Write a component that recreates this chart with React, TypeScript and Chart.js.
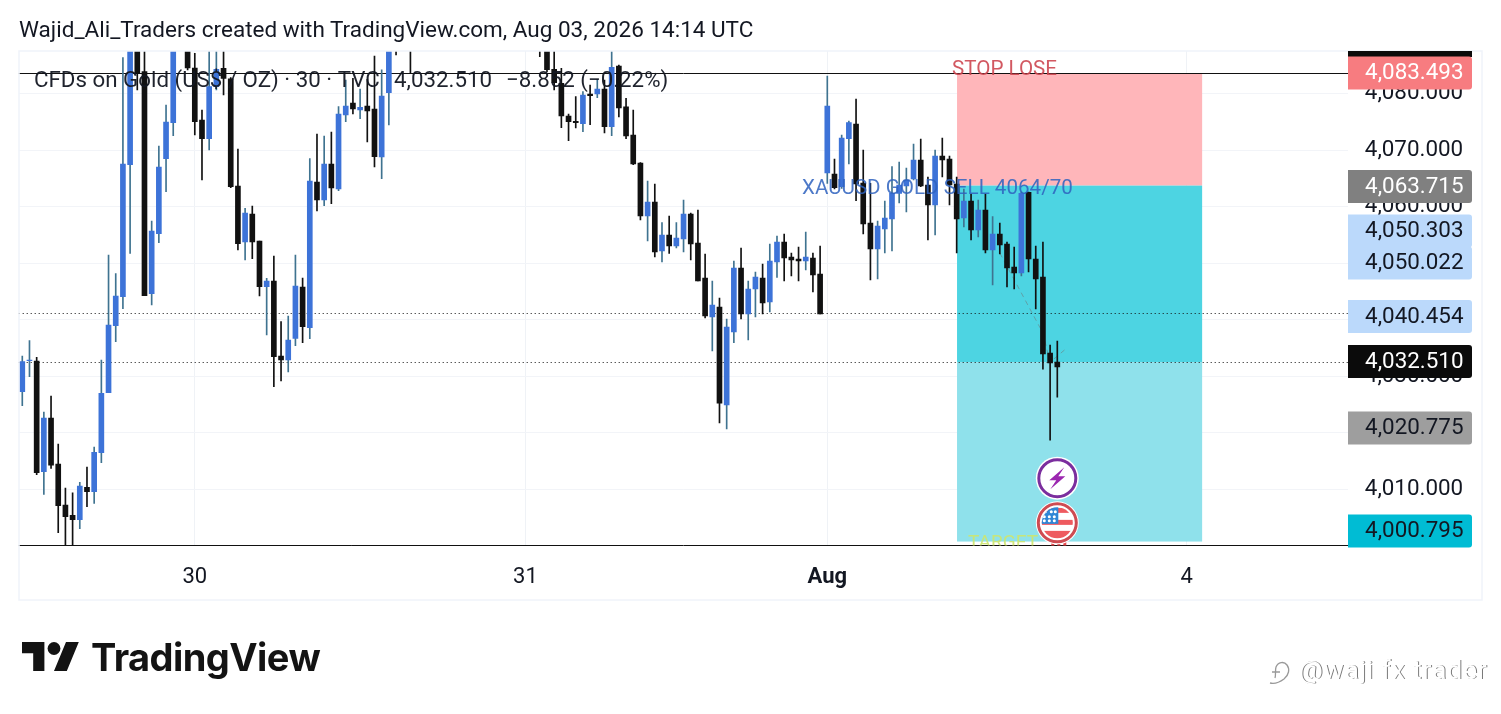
import React, { useEffect, useRef } from "react";
import { Chart, registerables } from "chart.js";

Chart.register(...registerables);

const opens = [
  4027.29, 4032.77, 4032.71, 4013.15, 4022.63, 4014.5, 4007.25, 4005.43, 4004.66, 4010.38,
  4009.61, 4016.5, 4027.11, 4038.96, 4044.08, 4067.42, 4092.0, 4083.86, 4044.61, 4055.22,
  4068.48, 4074.85, 4096, 4093, 4084.51, 4075.32, 4072.02, 4081.21, 4084.45, 4082.57,
  4063.65, 4053.75, 4058.7, 4053.93, 4045.85, 4046.85, 4033.59, 4032.89, 4036.72, 4045.79,
  4038.6, 4064.36, 4061.17, 4067.54, 4063.12, 4076.2, 4078.32, 4077.08, 4077.79, 4077.26,
  4068.78, 4080.15, 4093, 4092, 4096, 4091, 4096, 4099, 4097, 4102,
  4104, 4101, 4098, 4100, 4097, 4103, 4105, 4102, 4106, 4103,
  4101, 4099, 4098, 4092, 4084.27, 4081.8, 4076.02, 4075.08, 4074.67, 4079.91,
  4079.91, 4080.8, 4074.14, 4084.86, 4077.62, 4072.66, 4067.72, 4058.34, 4060.82, 4052.16,
  4054.99, 4053.04, 4054.28, 4058.7, 4053.57, 4047.38, 4040.49, 4042.26, 4024.93, 4037.84,
  4049.15, 4041.02, 4045.44, 4047.38, 4043.14, 4050.21, 4053.75, 4051.1, 4050.74, 4050.39,
  4050.92, 4048.09, 4065.95, 4065.77, 4063.53, 4072.01, 4074.61, 4064.18, 4057.11, 4052.51,
  4056.04, 4057.81, 4062.35, 4063.65, 4064.88, 4068.24, 4063.82, 4060.29, 4068.95, 4068.42,
  4064.0, 4057.99, 4060.99, 4055.87, 4059.4, 4052.33, 4055.16, 4053.39, 4049.33, 4048.27,
  4062.53, 4050.74, 4047.56, 4034.12, 4032.53,
];
const highs = [
  4033.59, 4036.31, 4033.36, 4023.69, 4026.52, 4018.04, 4010.26, 4009.43, 4011.26, 4013.97,
  4017.51, 4032.89, 4051.45, 4048.15, 4086.34, 4094.0, 4093, 4089.0, 4057.46, 4070.72,
  4077.97, 4094, 4097, 4094, 4087.1, 4077.08, 4088.5, 4089, 4088.5, 4082.8,
  4070.19, 4059.7, 4060.11, 4053.93, 4047.33, 4051.27, 4039.66, 4040.67, 4051.45, 4047.38,
  4068.48, 4072.84, 4072.49, 4073.2, 4077.67, 4082.39, 4082.68, 4080.8, 4082.51, 4086.63,
  4084.16, 4092.5, 4094, 4096, 4097, 4098, 4100, 4102, 4103, 4106,
  4105, 4103, 4102, 4101, 4104, 4107, 4106, 4108, 4107, 4105,
  4102, 4101, 4099, 4094, 4088.3, 4084.45, 4076.38, 4079.44, 4080.33, 4081.5,
  4082.51, 4082.39, 4087.52, 4085.04, 4079.15, 4077.08, 4067.78, 4064.53, 4064.0, 4057.17,
  4058.34, 4057.17, 4061.17, 4058.88, 4059.41, 4051.63, 4046.85, 4043.85, 4040.14, 4050.39,
  4052.69, 4046.85, 4048.44, 4049.86, 4053.39, 4054.81, 4055.16, 4051.8, 4052.86, 4055.52,
  4051.8, 4053.04, 4083.09, 4068.42, 4072.66, 4075.14, 4079.03, 4070.01, 4064.12, 4057.46,
  4060.99, 4067.06, 4067.89, 4066.83, 4071.07, 4071.96, 4065.24, 4070.01, 4072.13, 4068.95,
  4065.24, 4063.12, 4062.23, 4061.17, 4062.23, 4058.22, 4057.11, 4053.75, 4052.86, 4062.59,
  4062.59, 4053.04, 4053.75, 4035.54, 4036.24,
];
const lows = [
  4024.81, 4029.94, 4012.61, 4009.14, 4013.73, 4002.36, 3999.77, 3999.7, 4003.07, 4006.96,
  4007.55, 4014.74, 4027.11, 4036.13, 4041.96, 4051.74, 4080.62, 4044.26, 4042.61, 4053.63,
  4062.65, 4072.55, 4092, 4084.16, 4072.66, 4064.71, 4070.01, 4080.62, 4079.74, 4063.35,
  4052.33, 4050.57, 4050.8, 4044.2, 4037.31, 4028.17, 4029.17, 4030.77, 4035.42, 4035.95,
  4036.66, 4059.23, 4060.17, 4060.53, 4062.82, 4075.02, 4076.38, 4075.55, 4071.43, 4067.01,
  4064.95, 4074.43, 4086.81, 4089, 4083.68, 4090, 4094, 4095, 4096, 4100,
  4099, 4096, 4095, 4095, 4096, 4101, 4100, 4101, 4101, 4099,
  4097, 4096, 4086.51, 4083.86, 4080.62, 4073.96, 4071.66, 4073.9, 4073.25, 4074.49,
  4079.27, 4073.02, 4072.55, 4075.85, 4072.02, 4067.42, 4057.64, 4053.93, 4051.1, 4050.21,
  4051.74, 4052.69, 4051.98, 4050.57, 4046.85, 4040.31, 4034.48, 4021.75, 4020.69, 4035.95,
  4040.14, 4036.42, 4040.49, 4041.02, 4041.37, 4047.5, 4046.85, 4047.74, 4046.85, 4048.8,
  4044.91, 4041.02, 4064.12, 4063.12, 4063.23, 4067.54, 4061.05, 4055.16, 4047.03, 4047.21,
  4051.8, 4052.16, 4060.64, 4059.05, 4064.71, 4063.53, 4054.1, 4054.98, 4065.24, 4060.29,
  4051.8, 4056.4, 4054.1, 4054.63, 4051.8, 4046.14, 4051.62, 4045.79, 4045.44, 4047.74,
  4048.44, 4041.9, 4031.29, 4018.74, 4026.34,
];
const closes = [
  4032.59, 4032.89, 4012.97, 4022.63, 4014.32, 4007.13, 4005.19, 4004.66, 4010.61, 4009.61,
  4016.56, 4026.99, 4039.07, 4044.2, 4067.54, 4092.5, 4083.68, 4044.26, 4055.69, 4067.01,
  4074.96, 4092, 4093.5, 4084.51, 4075.02, 4072.02, 4081.21, 4084.27, 4082.68, 4063.53,
  4053.45, 4058.88, 4053.75, 4045.85, 4046.85, 4033.48, 4032.89, 4036.42, 4045.97, 4038.78,
  4064.53, 4061.17, 4067.54, 4063.3, 4076.38, 4077.79, 4077.26, 4077.56, 4076.91, 4068.83,
  4079.56, 4091, 4090, 4094.5, 4091, 4096, 4099, 4097, 4102, 4104,
  4101, 4098, 4100, 4097, 4103, 4105, 4102, 4106, 4103, 4101,
  4099, 4098, 4092, 4084.22, 4081.92, 4076.02, 4075.02, 4074.85, 4079.74, 4079.62,
  4080.8, 4074.14, 4084.63, 4077.44, 4072.49, 4067.54, 4058.34, 4060.82, 4051.98, 4054.99,
  4053.04, 4054.46, 4058.7, 4053.39, 4046.85, 4040.67, 4042.61, 4025.28, 4038.72, 4049.15,
  4041.02, 4045.44, 4047.56, 4042.96, 4050.39, 4053.75, 4050.92, 4050.57, 4050.39, 4051.1,
  4047.91, 4041.02, 4077.79, 4063.35, 4072.13, 4074.84, 4064.0, 4056.93, 4052.51, 4056.57,
  4057.99, 4062.35, 4063.82, 4064.71, 4068.24, 4063.65, 4060.29, 4068.95, 4068.24, 4063.82,
  4057.81, 4060.99, 4055.87, 4059.4, 4052.33, 4055.16, 4053.22, 4049.15, 4048.27, 4062.35,
  4050.74, 4047.21, 4033.95, 4032.36, 4031.65,
];

const totalBars = 185;
const dateTickIndex = [24, 70, 112, 162];
const dateTickLabels = ["30", "31", "Aug", "4"];
const categories = Array.from({ length: totalBars }, (_, i) => {
  const k = dateTickIndex.indexOf(i);
  return k >= 0 ? dateTickLabels[k] : "";
});

const projectionIndex = [136, 142, 143, 145];
const projectionPrice = [4051.8, 4037.66, 4032.5, 4034.66];

const stopLevel = 4083.493;
const entryLevel = 4063.715;
const lastLevel = 4032.51;
const targetLevel = 4000.795;
const dottedLevels = [4041.15, 4032.51];
const boxStart = 130.05;
const boxEnd = 164.15;

const badgeValues = [4083.493, 4063.715, 4050.303, 4050.022, 4040.454, 4032.51, 4020.775, 4000.795];
const badgeNudge = [-0.7, 0.9, -30.5, 0, -0.7, -0.6, -0.5, -10.6];
const badgeFill = ["#F77C80", "#808080", "#BBD9FB", "#BBD9FB", "#BBD9FB", "#0B0B0B", "#9E9E9E", "#00BCD4"];
const badgeText = ["#FFFFFF", "#FFFFFF", "#131722", "#131722", "#131722", "#FFFFFF", "#131722", "#131722"];

const UP = "#3D73D8";
const DOWN = "#111111";
const FONT = "Roboto, sans-serif";

const fmt = (v: number, d = 3) =>
  v.toLocaleString("en-US", { minimumFractionDigits: d, maximumFractionDigits: d });

const paneBack = {
  id: "paneBack",
  beforeDatasetsDraw(chart: any) {
    const { ctx, chartArea: a, scales } = chart;
    const y = scales.y, x = scales.x;
    const x0 = x.getPixelForValue(boxStart), x1 = x.getPixelForValue(boxEnd);
    ctx.save();
    const rect = (t: number, b: number, c: string) => {
      const yt = y.getPixelForValue(t), yb = y.getPixelForValue(b);
      ctx.fillStyle = c;
      ctx.fillRect(x0, yt, x1 - x0, yb - yt);
    };
    rect(stopLevel, entryLevel, "#FFB6BA");
    rect(entryLevel, lastLevel, "#4DD4E2");
    rect(lastLevel, targetLevel, "#8FE1EB");
    ctx.strokeStyle = "#111";
    ctx.lineWidth = 1;
    ctx.setLineDash([1, 3]);
    dottedLevels.forEach((v) => {
      const p = Math.round(y.getPixelForValue(v)) + 0.5;
      ctx.beginPath(); ctx.moveTo(a.left, p); ctx.lineTo(a.right, p); ctx.stroke();
    });
    ctx.setLineDash([]);
    const py = Math.round(y.getPixelForValue(stopLevel)) - 0.5;
    ctx.beginPath(); ctx.moveTo(a.left, py); ctx.lineTo(a.right, py); ctx.stroke();
    ctx.beginPath(); ctx.moveTo(a.left, a.bottom); ctx.lineTo(a.right, a.bottom); ctx.stroke();
    ctx.restore();
  },
};

const drawFlag = (ctx: any, cx: number, cy: number) => {
  ctx.save();
  ctx.beginPath(); ctx.arc(cx, cy, 21.5, 0, Math.PI * 2); ctx.fillStyle = "#fff"; ctx.fill();
  ctx.beginPath(); ctx.arc(cx, cy, 19, 0, Math.PI * 2); ctx.strokeStyle = "#CE4B52"; ctx.lineWidth = 3; ctx.stroke();
  ctx.beginPath(); ctx.arc(cx, cy, 15.5, 0, Math.PI * 2); ctx.clip();
  ctx.fillStyle = "#fff"; ctx.fillRect(cx - 17, cy - 17, 34, 34);
  ctx.fillStyle = "#EE5A5F";
  ctx.fillRect(cx - 17, cy - 15, 34, 5);
  ctx.fillRect(cx - 17, cy - 3, 34, 5);
  ctx.fillRect(cx - 17, cy + 8, 34, 8);
  ctx.fillStyle = "#2F86D6"; ctx.fillRect(cx - 17, cy - 17, 18, 18);
  ctx.fillStyle = "#fff";
  [[-12, -11], [-6, -11], [-2, -11], [-13, -6], [-8, -6], [-3, -6], [-13, -2], [-8, -2], [-3, -2]].forEach(([a, b]) => {
    ctx.beginPath(); ctx.arc(cx + a, cy + b, 1.5, 0, Math.PI * 2); ctx.fill();
  });
  ctx.restore();
};

const drawBolt = (ctx: any, cx: number, cy: number) => {
  ctx.save();
  ctx.beginPath(); ctx.arc(cx, cy, 21.5, 0, Math.PI * 2); ctx.fillStyle = "#fff"; ctx.fill();
  ctx.beginPath(); ctx.arc(cx, cy, 18.5, 0, Math.PI * 2); ctx.strokeStyle = "#7B2E9E"; ctx.lineWidth = 3; ctx.stroke();
  ctx.fillStyle = "#9C27B0";
  ctx.beginPath();
  ctx.moveTo(cx + 7, cy - 11); ctx.lineTo(cx - 8, cy + 2); ctx.lineTo(cx - 1, cy + 2);
  ctx.lineTo(cx - 7, cy + 11); ctx.lineTo(cx + 8, cy - 2); ctx.lineTo(cx + 1, cy - 2);
  ctx.closePath(); ctx.fill();
  ctx.restore();
};

const paneFront = {
  id: "paneFront",
  afterDatasetsDraw(chart: any) {
    const { ctx, chartArea: a, scales } = chart;
    const y = scales.y, x = scales.x;
    ctx.save();
    ctx.beginPath(); ctx.rect(a.left, a.top, a.right - a.left, a.bottom - a.top); ctx.clip();
    ctx.textBaseline = "middle";
    ctx.font = `20.6px ${FONT}`;
    ctx.fillStyle = "rgba(205,70,80,0.9)";
    ctx.fillText("STOP LOSE", 952, 69.5);
    ctx.fillStyle = "rgba(46,98,190,0.85)";
    ctx.fillText("XAUUSD GOLD SELL 4064/70", 802, 189);
    ctx.fillStyle = "rgba(205,230,110,0.9)";
    ctx.font = `19px ${FONT}`;
    ctx.fillText("TARGET", 968, 543);
    ctx.font = `22.3px ${FONT}`;
    ctx.fillStyle = "rgba(19,23,34,0.95)";
    ctx.fillText("CFDs on Gold (US$ / OZ) · 30 · TVC", 34, 81.5);
    ctx.fillText("4,032.510", 394, 81.5);
    ctx.fillText("−8.852 (−0.22%)", 506, 81.5);
    const mx = x.getPixelForValue(144);
    ctx.fillStyle = "#E5484D";
    ctx.fillRect(mx - 6, 541, 3, 5); ctx.fillRect(mx, 541, 3, 5); ctx.fillRect(mx + 6, 541, 3, 5);
    drawBolt(ctx, mx, y.getPixelForValue(4012));
    drawFlag(ctx, mx, y.getPixelForValue(4004.1));
    ctx.restore();
  },
  afterDraw(chart: any) {
    const { ctx, chartArea: a, scales } = chart;
    const y = scales.y;
    ctx.save();
    ctx.strokeStyle = "#F0F3FA";
    ctx.lineWidth = 1.5;
    ctx.strokeRect(19, 51, 1463, 549);
    ctx.beginPath(); ctx.rect(1348, 51, 160, 560); ctx.clip();
    ctx.fillStyle = "#0B0B0B";
    ctx.fillRect(1348, 40, 124, 17);
    ctx.textBaseline = "middle";
    ctx.textAlign = "right";
    ctx.font = `22.4px ${FONT}`;
    badgeValues.forEach((v, i) => {
      const cy = y.getPixelForValue(v) + badgeNudge[i];
      ctx.fillStyle = badgeFill[i];
      ctx.beginPath();
      ctx.roundRect(1348, cy - 16.5, 124, 33, [0, 3, 3, 0]);
      ctx.fill();
      ctx.fillStyle = badgeText[i];
      ctx.fillText(fmt(v), 1463.5, cy + 0.5);
    });
    ctx.restore();
  },
};

export default function App() {
  const ref = useRef<HTMLCanvasElement>(null);
  useEffect(() => {
    const wickColor = opens.map((o, i) => (closes[i] >= o ? "#3F7390" : DOWN));
    const bodyColor = opens.map((o, i) => (closes[i] >= o ? UP : DOWN));
    const path: (number | null)[] = new Array(totalBars).fill(null);
    projectionIndex.forEach((k, i) => (path[k] = projectionPrice[i]));
    const chart = new Chart(ref.current!, {
      type: "bar",
      data: {
        labels: categories,
        datasets: [
          {
            data: opens.map((o, i) => [o, closes[i]]),
            backgroundColor: bodyColor,
            barThickness: 5,
            grouped: false,
            order: 1,
          } as any,
          {
            data: opens.map((_, i) => [lows[i], highs[i]]),
            backgroundColor: wickColor,
            barThickness: 1,
            grouped: false,
            order: 2,
          } as any,
          {
            type: "line",
            data: path,
            borderColor: "rgba(110,120,120,0.55)",
            borderWidth: 1,
            borderDash: [5, 4],
            pointRadius: 0,
            spanGaps: true,
            order: 3,
          } as any,
        ],
      },
      options: {
        responsive: false,
        animation: false,
        devicePixelRatio: 1,
        layout: { padding: { left: 18.7, top: 51, right: 0, bottom: 0 } },
        plugins: { legend: { display: false }, tooltip: { enabled: false } },
        scales: {
          x: {
            offset: true,
            grid: {
              offset: false,
              drawTicks: false,
              color: (c: any) => (categories[c.index] ? "#EFF2F6" : "rgba(0,0,0,0)"),
            },
            border: { display: false },
            ticks: {
              autoSkip: false,
              maxRotation: 0,
              minRotation: 0,
              padding: 18.5,
              color: "#131722",
              font: (c: any) => ({
                family: FONT,
                size: 22,
                weight: c.tick && c.tick.label === "Aug" ? "bold" : "normal",
              }),
            },
            afterFit(s: any) { s.height = 168.5; },
          },
          y: {
            position: "right",
            min: 4000.1,
            max: 4087.51,
            grid: { drawTicks: false, color: "#F2F4F8" },
            border: { display: false },
            ticks: {
              stepSize: 10,
              padding: 16.4,
              color: "#131722",
              font: { family: FONT, size: 22.4 },
              callback: (v: any) => fmt(Number(v)),
            },
            afterBuildTicks(s: any) {
              s.ticks = [4010, 4020, 4030, 4040, 4050, 4060, 4070, 4080].map((value) => ({ value }));
            },
            afterFit(s: any) { s.width = 152.6; },
          },
        },
      } as any,
      plugins: [paneBack, paneFront],
    });
    return () => chart.destroy();
  }, []);
  return (
    <div style={{ position: "absolute", left: 0, top: 0, width: 1501, height: 714, background: "#fff", overflow: "hidden" }}>
      <canvas ref={ref} width={1501} height={714} style={{ display: "block" }} />
      <div style={{ position: "absolute", left: 19, top: 16, font: `22.5px ${FONT}`, color: "#131722", whiteSpace: "nowrap" }}>
        Wajid_Ali_Traders created with TradingView.com, Aug 03, 2026 14:14 UTC
      </div>
      <svg style={{ position: "absolute", left: 22, top: 642 }} width="57.6" height="29" viewBox="0 4 36 18">
        <path d="M14 22H7V11H0V4h14v18zM28 22h-8l7.5-18h8L28 22z" fill="#131313" />
        <circle cx="20" cy="8" r="4" fill="#131313" />
      </svg>
      <div style={{ position: "absolute", left: 91, top: 634, font: `700 38px Inter, ${FONT}`, letterSpacing: "-0.55px", color: "#131313", whiteSpace: "nowrap" }}>
        TradingView
      </div>
      <svg style={{ position: "absolute", left: 1268, top: 658 }} width="24" height="30" viewBox="0 0 24 30">
        <path d="M2 25c4 1 10-1 14-4 5-4 6-10 3-14S10 4 8 9c-1 3 0 8-1 11M4 14h8" fill="none" stroke="#999" strokeWidth="1.3" />
      </svg>
      <div style={{ position: "absolute", left: 1299, top: 654, font: `26.5px ${FONT}`, letterSpacing: "0.85px", color: "#fff", textShadow: "1px 0 0 #777", whiteSpace: "nowrap" }}>
        @waji fx trader
      </div>
    </div>
  );
}
